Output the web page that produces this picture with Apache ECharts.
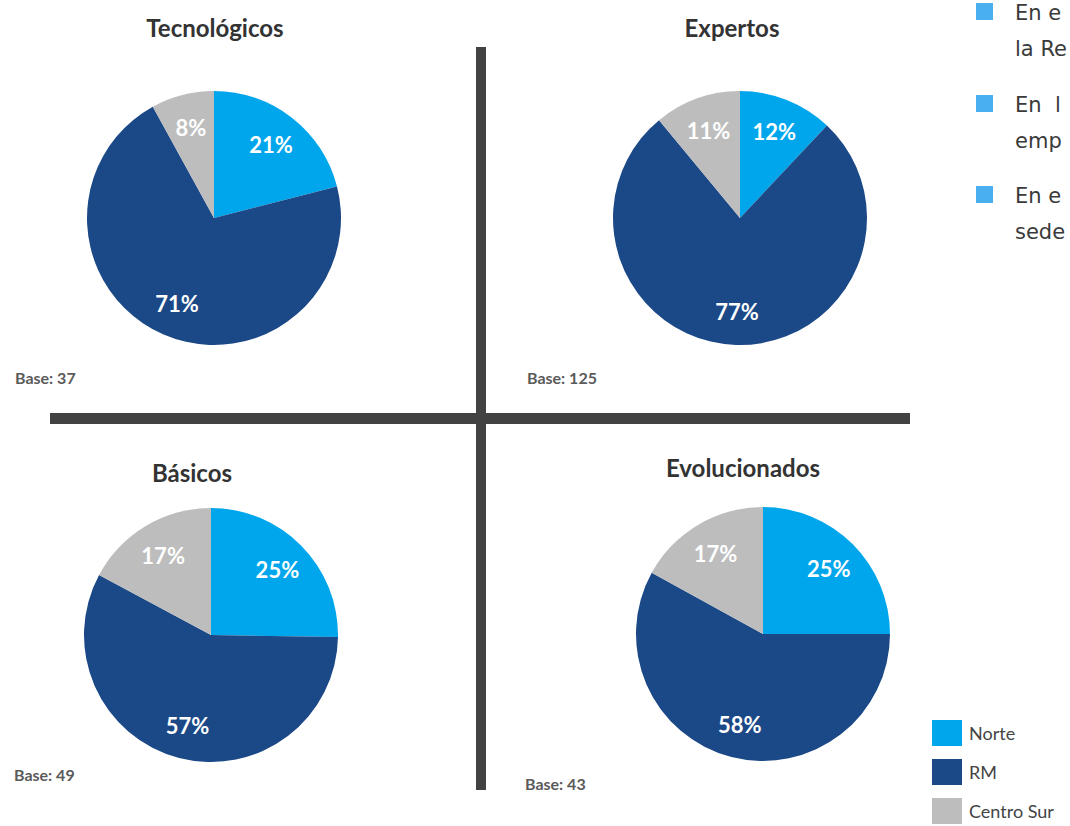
<!DOCTYPE html>
<html>
<head>
<meta charset="utf-8">
<script src="https://cdn.jsdelivr.net/npm/echarts@6/dist/echarts.min.js"></script>
<style>
html,body{margin:0;padding:0;background:#fff;}
#chart{width:1070px;height:826px;}
</style>
</head>
<body>
<div id="chart"></div>
<script>
const categories = ['Norte', 'RM', 'Centro Sur'];
const tecnologicos = [21, 71, 8];
const expertos = [12, 77, 11];
const basicos = [25, 57, 17];
const evolucionados = [25, 58, 17];
const panelTitles = ['Tecnológicos', 'Expertos', 'Básicos', 'Evolucionados'];
const baseLabels = ['Base: 37', 'Base: 125', 'Base: 49', 'Base: 43'];
const bulletLines = [['En e', 'la Re'], ['En  l', 'emp'], ['En e', 'sede']];

const colors = ['#00A6EC', '#1B4886', '#BDBDBD'];
const panels = [
  { values: tecnologicos, center: [214, 218], title: [215, 27], base: [15, 377] },
  { values: expertos, center: [740, 218], title: [732, 27], base: [527, 377] },
  { values: basicos, center: [211, 635], title: [192, 472], base: [14, 774] },
  { values: evolucionados, center: [763, 634], title: [743, 467], base: [525, 783] }
];
const R = 127;

const series = [];
panels.forEach((p, i) => {
  const data = categories.map((c, k) => ({ name: c, value: p.values[k], itemStyle: { color: colors[k] } }));
  series.push({
    type: 'pie', center: p.center, radius: [0, R], startAngle: 90, clockwise: true,
    label: { show: false }, labelLine: { show: false }, silent: true,
    itemStyle: { borderWidth: 0 }, emphasis: { disabled: true },
    data: data
  });
  series.push({
    type: 'pie', center: p.center, radius: [R * 0.42, R], startAngle: 90, clockwise: true,
    silent: true, emphasis: { disabled: true },
    itemStyle: { color: 'rgba(0,0,0,0)', borderWidth: 0 },
    label: { show: true, position: 'inside', formatter: '{c}%', color: '#ffffff',
      fontFamily: 'Lato', fontWeight: 'bold', fontSize: 22 },
    labelLine: { show: false },
    data: categories.map((c, k) => ({ name: c, value: p.values[k] }))
  });
});

const graphics = [
  { type: 'rect', shape: { x: 476, y: 47, width: 10, height: 743 }, style: { fill: '#424242' } },
  { type: 'rect', shape: { x: 50, y: 413, width: 860, height: 11 }, style: { fill: '#424242' } }
];
panels.forEach((p, i) => {
  graphics.push({ type: 'text', x: p.title[0], y: p.title[1],
    style: { text: panelTitles[i], fill: '#333333', font: 'bold 24px Lato', textAlign: 'center', textVerticalAlign: 'middle' } });
  graphics.push({ type: 'text', x: p.base[0], y: p.base[1],
    style: { text: baseLabels[i], fill: '#5a5a5a', font: 'bold 16px Lato', textAlign: 'left', textVerticalAlign: 'middle' } });
});
const bulletY = [11, 103, 194];
bulletLines.forEach((lines, i) => {
  graphics.push({ type: 'rect', shape: { x: 976, y: bulletY[i] - 8, width: 17, height: 17 }, style: { fill: '#4AAFEE' } });
  lines.forEach((t, j) => {
    graphics.push({ type: 'text', x: 1015, y: bulletY[i] + 2 + j * 36,
      style: { text: t, fill: '#3a3a3a', font: '21px "DejaVu Sans"', textAlign: 'left', textVerticalAlign: 'middle' } });
  });
});

const chart = echarts.init(document.getElementById('chart'), null, { renderer: 'svg' });
chart.setOption({
  backgroundColor: '#ffffff',
  animation: false,
  legend: {
    orient: 'vertical', left: 932, top: 720, height: 110, itemWidth: 30, itemHeight: 26, itemGap: 13,
    icon: 'rect', selectedMode: false, padding: 0,
    textStyle: { fontFamily: 'Lato', fontSize: 18, color: '#444444', padding: [0, 0, 0, 2] },
    data: categories.map((c, k) => ({ name: c, itemStyle: { color: colors[k] } }))
  },
  series: series,
  graphic: graphics
});
</script>
</body>
</html>
